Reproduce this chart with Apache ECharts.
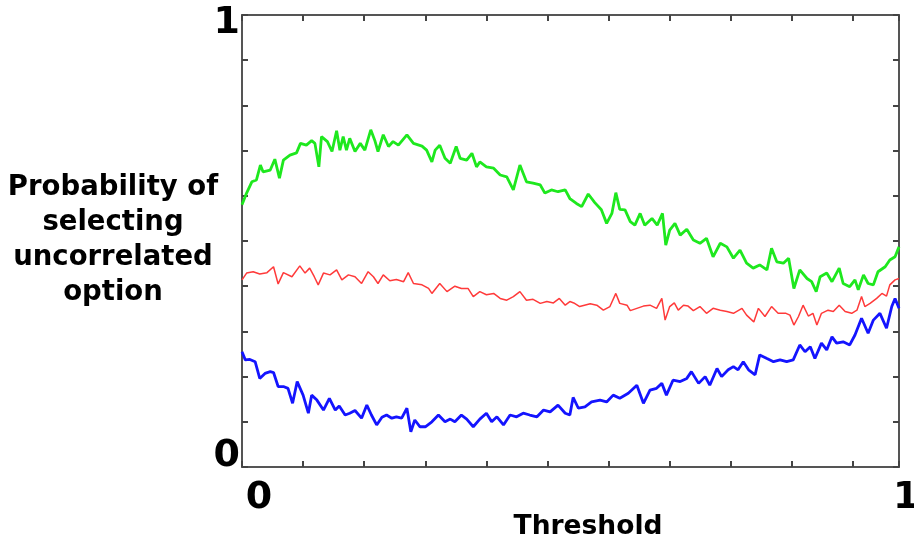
<!DOCTYPE html>
<html>
<head>
<meta charset="utf-8">
<script src="https://cdn.jsdelivr.net/npm/echarts@6/dist/echarts.min.js"></script>
<style>html,body{margin:0;padding:0;background:#fff}#c{width:914px;height:542px}</style>
</head>
<body>
<div id="c"></div>
<script>
// Tick labels
const xTickLabels = ['0', '1'];
const yTickLabels = ['0', '1'];
const xAxisTitle = 'Threshold';
const yAxisTitle = 'Probability of\nselecting\nuncorrelated\noption';

// Series: [threshold, probability]
const greenSeries = [
[0,0.580],[0.007,0.606],[0.015,0.631],[0.022,0.635],[0.028,0.668],[0.032,0.653],[0.043,0.657],[0.050,0.681],[0.057,0.639],[0.063,0.679],
[0.073,0.690],[0.083,0.695],[0.089,0.716],[0.098,0.712],[0.106,0.722],[0.111,0.716],[0.117,0.664],[0.121,0.731],[0.130,0.720],[0.137,0.698],
[0.144,0.744],[0.149,0.701],[0.154,0.731],[0.159,0.701],[0.164,0.727],[0.172,0.698],[0.180,0.716],[0.187,0.701],[0.196,0.746],[0.202,0.723],
[0.207,0.698],[0.215,0.735],[0.223,0.709],[0.230,0.720],[0.238,0.712],[0.251,0.735],[0.261,0.716],[0.274,0.710],[0.281,0.701],[0.289,0.675],
[0.294,0.701],[0.301,0.712],[0.309,0.683],[0.317,0.672],[0.326,0.709],[0.332,0.683],[0.342,0.679],[0.350,0.694],[0.357,0.664],[0.362,0.675],
[0.372,0.664],[0.383,0.661],[0.393,0.646],[0.403,0.642],[0.413,0.613],[0.423,0.668],[0.433,0.631],[0.443,0.628],[0.454,0.624],[0.461,0.606],
[0.471,0.613],[0.481,0.609],[0.492,0.613],[0.499,0.594],[0.509,0.583],[0.517,0.576],[0.527,0.604],[0.537,0.585],[0.547,0.569],[0.555,0.539],
[0.563,0.561],[0.569,0.607],[0.575,0.570],[0.583,0.569],[0.591,0.543],[0.598,0.535],[0.606,0.561],[0.613,0.535],[0.624,0.550],[0.632,0.535],
[0.640,0.561],[0.645,0.491],[0.651,0.524],[0.659,0.539],[0.667,0.513],[0.677,0.526],[0.687,0.502],[0.697,0.495],[0.707,0.506],[0.717,0.465],
[0.728,0.495],[0.738,0.487],[0.748,0.462],[0.758,0.480],[0.768,0.451],[0.778,0.440],[0.788,0.447],[0.799,0.436],[0.806,0.484],[0.814,0.454],
[0.824,0.451],[0.832,0.462],[0.840,0.395],[0.849,0.436],[0.860,0.417],[0.867,0.410],[0.874,0.388],[0.880,0.421],[0.890,0.429],[0.898,0.410],
[0.909,0.440],[0.915,0.406],[0.925,0.399],[0.933,0.414],[0.938,0.392],[0.946,0.425],[0.953,0.406],[0.961,0.403],[0.968,0.432],[0.979,0.443],
[0.986,0.458],[0.994,0.465],[1.000,0.487]
];
const redSeries = [
[0,0.414],[0.007,0.429],[0.017,0.432],[0.027,0.427],[0.038,0.430],[0.048,0.443],[0.055,0.405],[0.063,0.430],[0.076,0.421],[0.088,0.445],
[0.096,0.429],[0.103,0.440],[0.110,0.421],[0.116,0.403],[0.124,0.429],[0.134,0.425],[0.144,0.436],[0.152,0.414],[0.162,0.425],[0.172,0.421],
[0.182,0.406],[0.192,0.432],[0.200,0.421],[0.207,0.406],[0.215,0.425],[0.225,0.412],[0.235,0.415],[0.246,0.410],[0.253,0.430],[0.261,0.406],
[0.274,0.403],[0.284,0.395],[0.289,0.384],[0.301,0.406],[0.312,0.388],[0.324,0.400],[0.334,0.395],[0.344,0.395],[0.352,0.377],[0.362,0.388],
[0.372,0.381],[0.383,0.384],[0.393,0.373],[0.403,0.369],[0.413,0.377],[0.423,0.388],[0.433,0.369],[0.443,0.371],[0.454,0.362],[0.464,0.366],
[0.474,0.363],[0.483,0.373],[0.492,0.358],[0.499,0.366],[0.505,0.363],[0.514,0.355],[0.530,0.361],[0.540,0.358],[0.550,0.347],[0.560,0.355],
[0.569,0.384],[0.575,0.362],[0.586,0.358],[0.591,0.346],[0.601,0.351],[0.611,0.356],[0.621,0.358],[0.631,0.351],[0.639,0.373],[0.644,0.325],
[0.651,0.355],[0.658,0.363],[0.664,0.347],[0.672,0.358],[0.679,0.356],[0.687,0.346],[0.697,0.355],[0.707,0.340],[0.717,0.351],[0.728,0.347],
[0.738,0.344],[0.748,0.340],[0.761,0.351],[0.768,0.336],[0.779,0.321],[0.786,0.351],[0.796,0.333],[0.806,0.355],[0.816,0.340],[0.828,0.340],
[0.834,0.336],[0.840,0.314],[0.847,0.333],[0.854,0.358],[0.862,0.334],[0.869,0.340],[0.875,0.314],[0.882,0.340],[0.892,0.347],[0.900,0.344],
[0.909,0.358],[0.918,0.344],[0.928,0.340],[0.936,0.347],[0.943,0.377],[0.948,0.355],[0.956,0.362],[0.966,0.373],[0.974,0.384],[0.981,0.378],
[0.986,0.403],[0.994,0.414],[1.000,0.417]
];
const blueSeries = [
[0,0.255],[0.005,0.237],[0.012,0.238],[0.020,0.233],[0.027,0.196],[0.035,0.207],[0.043,0.211],[0.048,0.209],[0.055,0.178],[0.063,0.178],
[0.070,0.174],[0.077,0.141],[0.084,0.189],[0.093,0.159],[0.101,0.119],[0.106,0.159],[0.114,0.148],[0.124,0.126],[0.133,0.152],[0.142,0.126],
[0.148,0.135],[0.157,0.115],[0.164,0.119],[0.172,0.125],[0.182,0.108],[0.190,0.137],[0.197,0.115],[0.205,0.093],[0.213,0.110],[0.220,0.115],
[0.228,0.108],[0.235,0.111],[0.243,0.108],[0.251,0.130],[0.257,0.078],[0.263,0.104],[0.271,0.089],[0.279,0.089],[0.289,0.100],[0.299,0.115],
[0.309,0.100],[0.317,0.106],[0.324,0.100],[0.334,0.115],[0.342,0.106],[0.352,0.089],[0.362,0.106],[0.372,0.119],[0.380,0.100],[0.388,0.111],
[0.398,0.093],[0.408,0.115],[0.418,0.111],[0.428,0.119],[0.438,0.115],[0.449,0.111],[0.459,0.126],[0.469,0.122],[0.481,0.137],[0.492,0.119],
[0.499,0.115],[0.504,0.154],[0.512,0.130],[0.514,0.133],[0.522,0.133],[0.532,0.144],[0.545,0.148],[0.555,0.144],[0.565,0.159],[0.575,0.152],
[0.588,0.163],[0.601,0.181],[0.611,0.141],[0.621,0.170],[0.631,0.174],[0.639,0.185],[0.646,0.159],[0.656,0.192],[0.667,0.189],[0.677,0.196],
[0.684,0.211],[0.695,0.185],[0.705,0.200],[0.712,0.181],[0.723,0.218],[0.730,0.200],[0.740,0.215],[0.748,0.222],[0.755,0.215],[0.763,0.233],
[0.771,0.215],[0.781,0.204],[0.788,0.248],[0.799,0.240],[0.809,0.233],[0.819,0.237],[0.829,0.233],[0.839,0.237],[0.849,0.270],[0.857,0.255],
[0.865,0.266],[0.872,0.240],[0.882,0.274],[0.890,0.259],[0.898,0.288],[0.905,0.274],[0.915,0.277],[0.925,0.270],[0.933,0.292],[0.943,0.329],
[0.953,0.296],[0.961,0.325],[0.971,0.340],[0.981,0.307],[0.989,0.355],[0.994,0.373],[1.000,0.351]
];

const chart = echarts.init(document.getElementById('c'), null, {renderer: 'canvas'});
const axisLine = {show: true, onZero: false, lineStyle: {color: '#555', width: 2}};
const axisTick = {show: true, inside: true, length: 6, lineStyle: {color: '#444', width: 2}};
const xCommon = {type: 'value', min: 0, max: 1, interval: 0.093, axisLine, axisTick,
  axisLabel: {show: false}, splitLine: {show: false}};
const yCommon = {type: 'value', min: 0, max: 1, interval: 0.1, axisLine, axisTick,
  axisLabel: {show: false}, splitLine: {show: false}};
const bigFont = {fontFamily: 'DejaVu Sans', fontWeight: 'bold', fill: '#000'};

chart.setOption({
  animation: false,
  backgroundColor: '#fff',
  grid: {left: 242, top: 15, right: 15, bottom: 75},
  xAxis: [Object.assign({position: 'bottom'}, xCommon), Object.assign({position: 'top'}, xCommon)],
  yAxis: [Object.assign({position: 'left'}, yCommon), Object.assign({position: 'right'}, yCommon)],
  series: [
    {type: 'line', data: greenSeries, showSymbol: false, lineStyle: {color: '#1ee81e', width: 2.8}},
    {type: 'line', data: redSeries, showSymbol: false, lineStyle: {color: '#ff3a3a', width: 1.5}},
    {type: 'line', data: blueSeries, showSymbol: false, lineStyle: {color: '#1414ff', width: 2.8}}
  ],
  graphic: [
    {type: 'text', x: 259, y: 498, style: Object.assign({text: xTickLabels[0], fontSize: 38, textAlign: 'center', textVerticalAlign: 'middle'}, bigFont)},
    {type: 'text', x: 893, y: 498, style: Object.assign({text: xTickLabels[1], fontSize: 38, textAlign: 'left', textVerticalAlign: 'middle'}, bigFont)},
    {type: 'text', x: 240, y: 456, style: Object.assign({text: yTickLabels[0], fontSize: 38, textAlign: 'right', textVerticalAlign: 'middle'}, bigFont)},
    {type: 'text', x: 240, y: 23, style: Object.assign({text: yTickLabels[1], fontSize: 38, textAlign: 'right', textVerticalAlign: 'middle'}, bigFont)},
    {type: 'text', x: 588, y: 527, style: Object.assign({text: xAxisTitle, fontSize: 26.5, textAlign: 'center', textVerticalAlign: 'middle'}, bigFont)},
    {type: 'text', x: 113, y: 170, style: Object.assign({text: yAxisTitle, fontSize: 27.5, lineHeight: 35, textAlign: 'center', textVerticalAlign: 'top'}, bigFont)}
  ]
});
</script>
</body>
</html>
